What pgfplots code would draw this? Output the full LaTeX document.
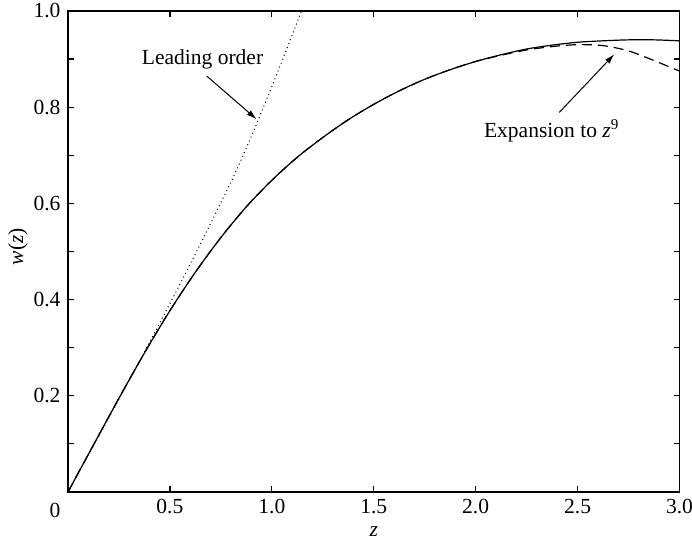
\documentclass[border=0pt]{standalone}
\usepackage{pgfplots}
\pgfplotsset{compat=1.18}
\usepackage{fontspec}
\setmainfont{Liberation Serif}
\usetikzlibrary{arrows.meta}
\begin{document}
\fontsize{10.8}{13}\selectfont
\begin{tikzpicture}
\begin{axis}[
  at={(0,0)}, anchor=south west,
  scale only axis, width=305.75bp, height=240.5bp,
  xmin=0, xmax=3, ymin=0, ymax=1,
  xtick={0,0.5,1,1.5,2,2.5,3},
  xticklabels={{},0.5,1.0,1.5,2.0,2.5,3.0},
  ytick={0,0.1,0.2,0.3,0.4,0.5,0.6,0.7,0.8,0.9,1},
  yticklabels={{},{},0.2,{},0.4,{},0.6,{},0.8,{},1.0},
  /pgf/number format/assume math mode=true,
  tick align=inside, major tick length=2.8bp,
  tick style={line width=0.6bp, black},
  axis line style={line width=0.7bp},
  xlabel={\textit{z}}, ylabel={\textit{w}(\textit{z})},
  xlabel style={at={(axis description cs:0.5,-0.083)}, anchor=center},
  ylabel style={at={(axis description cs:-0.082,0.51)}, anchor=center},
  clip=true,
]
% full solution
\addplot[black, line width=0.6bp, smooth] coordinates {
(0,0)(0.125,0.098)(0.25,0.195)(0.375,0.289)(0.5,0.377)(0.625,0.457)
(0.75,0.529)(0.875,0.593)(1.0,0.648)(1.125,0.696)(1.25,0.737)(1.375,0.774)
(1.5,0.806)(1.625,0.834)(1.75,0.858)(1.875,0.878)(2.0,0.895)(2.125,0.909)
(2.25,0.921)(2.375,0.929)(2.5,0.935)(2.625,0.938)(2.75,0.940)(2.875,0.940)(3.0,0.938)};
% expansion to z^9
\addplot[black, line width=0.6bp, smooth, dash pattern=on 5bp off 3bp] coordinates {
(0,0)(0.125,0.098)(0.25,0.195)(0.375,0.289)(0.5,0.377)(0.625,0.457)
(0.75,0.529)(0.875,0.593)(1.0,0.648)(1.125,0.696)(1.25,0.737)(1.375,0.774)
(1.5,0.806)(1.625,0.834)(1.75,0.858)(1.875,0.878)(2.0,0.895)(2.125,0.908)
(2.25,0.919)(2.375,0.926)(2.5,0.930)(2.625,0.928)(2.75,0.917)(2.875,0.897)(3.0,0.875)};
% leading order
\addplot[black, line width=0.5bp, smooth, dash pattern=on 0.5bp off 1.6bp] coordinates {
(0,0)(0.2,0.154)(0.4,0.311)(0.6,0.474)(0.8,0.645)(0.9,0.740)
(1.0,0.843)(1.1,0.950)(1.145,1.0)};
\node at (axis cs:0.66,0.9) {Leading order};
\draw[line width=0.5bp, -{Latex[length=5bp,width=3bp]}] (axis cs:0.68,0.865) -- (axis cs:0.925,0.775);
\node at (axis cs:2.373,0.751) {Expansion to \textit{z}\textsuperscript{9}};
\draw[line width=0.5bp, -{Latex[length=5bp,width=3bp]}] (axis cs:2.41,0.789) -- (axis cs:2.68,0.910);
\end{axis}
\node at (-6.5bp,-9bp) {0};
\pgfresetboundingbox
\path (-34bp,-26bp) rectangle (312bp,246bp);
\end{tikzpicture}
\end{document}
